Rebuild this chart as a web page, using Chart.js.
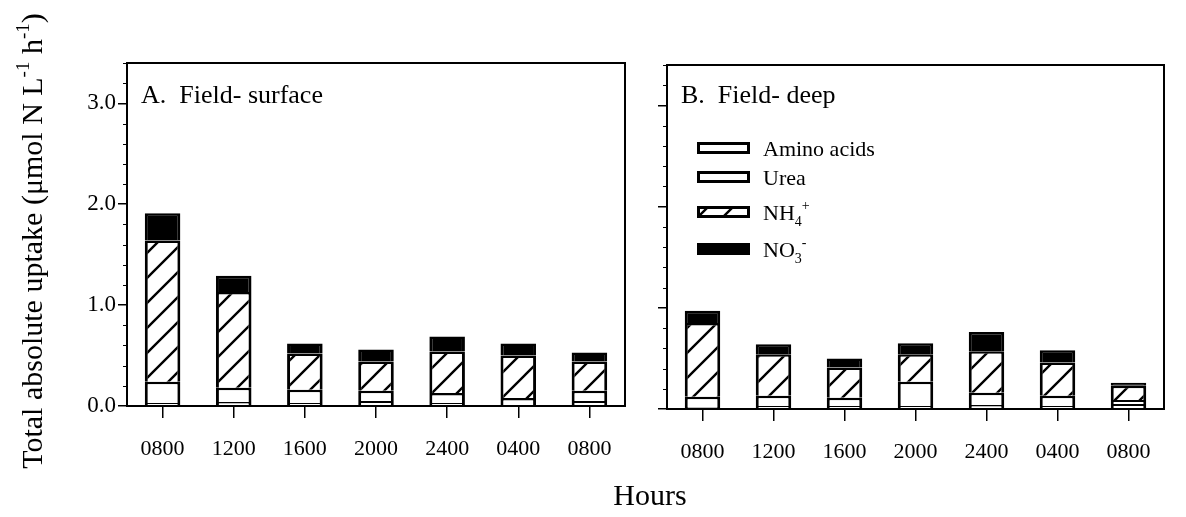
<!DOCTYPE html>
<html>
<head>
<meta charset="utf-8">
<script src="https://cdn.jsdelivr.net/npm/chart.js@4.4.1/dist/chart.umd.min.js"></script>
<style>
  body { margin: 0; background: #fff; width: 1186px; height: 517px; overflow: hidden; position: relative; }
  #wrapA { position: absolute; left: 0; top: 0; width: 640px; height: 517px; }
  #wrapB { position: absolute; left: 640px; top: 0; width: 546px; height: 517px; }
  #hours { position: absolute; left: 550px; top: 480px; width: 200px; text-align: center;
           font: 30px/30px "Liberation Serif", "Times New Roman", serif; color: #000; }
</style>
</head>
<body>
<div id="wrapA"><canvas id="chartA" width="640" height="517"></canvas></div>
<div id="wrapB"><canvas id="chartB" width="546" height="517"></canvas></div>
<div id="hours">Hours</div>
<script>
// categories (sampling hours)
const hours = ["0800", "1200", "1600", "2000", "2400", "0400", "0800"];

// A. Field- surface (umol N L-1 h-1), stacked bottom -> top
const surfAmino = [0.03, 0.04, 0.03, 0.05, 0.03, 0.01, 0.05];
const surfUrea  = [0.21, 0.14, 0.13, 0.10, 0.10, 0.07, 0.10];
const surfNH4   = [1.40, 0.95, 0.36, 0.29, 0.41, 0.42, 0.29];
const surfNO3   = [0.27, 0.16, 0.10, 0.12, 0.15, 0.12, 0.09];

// B. Field- deep
const deepAmino = [0.02, 0.03, 0.03, 0.03, 0.04, 0.03, 0.05];
const deepUrea  = [0.10, 0.10, 0.08, 0.24, 0.12, 0.10, 0.04];
const deepNH4   = [0.73, 0.41, 0.30, 0.27, 0.41, 0.33, 0.14];
const deepNO3   = [0.12, 0.10, 0.09, 0.11, 0.19, 0.12, 0.03];

const seriesNames = ["Amino acids", "Urea", "NH\u2084\u207A", "NO\u2083\u207B"];
const yMax = 3.4;
const yStep = 0.2;

const FONT = '"Liberation Serif", "Times New Roman", serif';

function hatchPattern() {
  var c = document.createElement("canvas");
  c.width = 25;
  c.height = 25;
  var g = c.getContext("2d");
  g.fillStyle = "#fff";
  g.fillRect(0, 0, 25, 25);
  g.strokeStyle = "#000";
  g.lineWidth = 2.4;
  g.beginPath();
  g.moveTo(-3, 28); g.lineTo(28, -3);
  g.moveTo(-3, 3); g.lineTo(3, -3);
  g.moveTo(22, 28); g.lineTo(28, 22);
  g.stroke();
  return g.createPattern(c, "repeat");
}
const hatch = hatchPattern();
const fills = ["#ffffff", "#ffffff", hatch, "#000000"];

function makeDatasets(amino, urea, nh4, no3) {
  return [amino, urea, nh4, no3].map(function (d, i) {
    return {
      label: seriesNames[i],
      data: d,
      backgroundColor: fills[i],
      borderColor: "#000",
      borderWidth: { top: 2.5, left: 3, right: 3, bottom: 0 },
      barPercentage: 0.5,
      categoryPercentage: 1.0
    };
  });
}

function isMajor(v) {
  return Math.abs(v - Math.round(v)) < 1e-6;
}

// draws a run of text pieces: s=0 normal, 1 superscript, -1 subscript
function drawRich(ctx, parts, x, y, size) {
  var small = Math.round(size * 0.62);
  parts.forEach(function (p) {
    var sz = p.s === 0 ? size : small;
    ctx.font = sz + "px " + FONT;
    var dy = p.s === 1 ? -size * 0.42 : p.s === -1 ? size * 0.28 : 0;
    ctx.fillText(p.t, x, y + dy);
    x += ctx.measureText(p.t).width;
  });
  return x;
}
function richWidth(ctx, parts, size) {
  var small = Math.round(size * 0.62), w = 0;
  parts.forEach(function (p) {
    ctx.font = (p.s === 0 ? size : small) + "px " + FONT;
    w += ctx.measureText(p.t).width;
  });
  return w;
}

// frame, minor ticks and panel label
const framePlugin = {
  id: "frame",
  afterDraw(chart, args, opts) {
    const ctx = chart.ctx;
    const a = chart.chartArea;
    const y = chart.scales.y;
    ctx.save();
    ctx.strokeStyle = "#000";
    ctx.lineWidth = 2;
    ctx.strokeRect(a.left, a.top, a.right - a.left, a.bottom - a.top);
    ctx.lineWidth = 1.2;
    ctx.beginPath();
    for (let v = 0; v <= yMax + 1e-6; v += yStep) {
      if (isMajor(v)) continue;
      const py = Math.round(y.getPixelForValue(v)) + 0.5;
      ctx.moveTo(a.left - 4, py);
      ctx.lineTo(a.left, py);
    }
    ctx.stroke();
    ctx.fillStyle = "#000";
    ctx.textBaseline = "alphabetic";
    ctx.font = "26px " + FONT;
    ctx.fillText(opts.label, a.left + 14, 103);
    ctx.restore();
  }
};

// y title, left chart only
const yTitlePlugin = {
  id: "ytitle",
  afterDraw(chart) {
    const ctx = chart.ctx;
    const parts = [
      { t: "Total absolute uptake (\u03BCmol N L", s: 0 },
      { t: "-1", s: 1 },
      { t: " h", s: 0 },
      { t: "-1", s: 1 },
      { t: ")", s: 0 }
    ];
    ctx.save();
    ctx.fillStyle = "#000";
    ctx.textBaseline = "alphabetic";
    ctx.translate(42, 241);
    ctx.rotate(-Math.PI / 2);
    const w = richWidth(ctx, parts, 30);
    drawRich(ctx, parts, -w / 2, 0, 30);
    ctx.restore();
  }
};

// legend, right chart only
const legendPlugin = {
  id: "richLegend",
  afterDraw(chart) {
    const ctx = chart.ctx;
    const rows = [
      [{ t: "Amino acids", s: 0 }],
      [{ t: "Urea", s: 0 }],
      [{ t: "NH", s: 0 }, { t: "4", s: -1 }, { t: "+", s: 1 }],
      [{ t: "NO", s: 0 }, { t: "3", s: -1 }, { t: "-", s: 1 }]
    ];
    const rowY = [148, 177, 212, 249];
    ctx.save();
    chart.data.datasets.forEach(function (ds, i) {
      const cy = rowY[i];
      ctx.fillStyle = "#000";
      ctx.fillRect(57, cy - 6, 53, 12);
      ctx.fillStyle = ds.backgroundColor;
      ctx.fillRect(60, cy - 3, 47, 6);
      ctx.fillStyle = "#000";
      ctx.textBaseline = "alphabetic";
      drawRich(ctx, rows[i], 123, cy + 7.5, 22);
    });
    ctx.restore();
  }
};

function makeChart(id, datasets, opts) {
  return new Chart(document.getElementById(id), {
    type: "bar",
    data: { labels: hours, datasets: datasets },
    plugins: opts.plugins,
    options: {
      responsive: false,
      animation: false,
      devicePixelRatio: 1,
      layout: { padding: opts.padding },
      plugins: {
        legend: { display: false },
        tooltip: { enabled: false },
        frame: { label: opts.label }
      },
      scales: {
        x: {
          stacked: true,
          offset: true,
          grid: { offset: false, drawOnChartArea: false, tickLength: 12, color: "#000", lineWidth: 1.5 },
          border: { display: true, color: "#000", width: 2 },
          ticks: { color: "#000", font: { family: FONT, size: 22 }, padding: 18, maxRotation: 0, autoSkip: false },
          afterFit: function (s) { s.height = 60; }
        },
        y: {
          stacked: true,
          min: 0,
          max: yMax,
          grid: {
            drawOnChartArea: false,
            tickLength: 9,
            lineWidth: 1.5,
            color: function (c) { return isMajor(c.tick.value) ? "#000" : "rgba(0,0,0,0)"; }
          },
          border: { display: true, color: "#000", width: 2 },
          ticks: {
            display: opts.showLabels,
            stepSize: yStep,
            autoSkip: false,
            color: "#000",
            padding: 2,
            font: { family: FONT, size: 23 },
            callback: function (v) { return isMajor(v) ? Number(v).toFixed(1) : ""; }
          },
          afterFit: function (s) { s.width = opts.yWidth; }
        }
      }
    }
  });
}

makeChart("chartA", makeDatasets(surfAmino, surfUrea, surfNH4, surfNO3), {
  label: "A.  Field- surface",
  padding: { left: 0, right: 15, top: 63, bottom: 51 },
  yWidth: 127,
  showLabels: true,
  plugins: [framePlugin, yTitlePlugin]
});

makeChart("chartB", makeDatasets(deepAmino, deepUrea, deepNH4, deepNO3), {
  label: "B.  Field- deep",
  padding: { left: 0, right: 22, top: 65, bottom: 48 },
  yWidth: 27,
  showLabels: false,
  plugins: [framePlugin, legendPlugin]
});
</script>
</body>
</html>
